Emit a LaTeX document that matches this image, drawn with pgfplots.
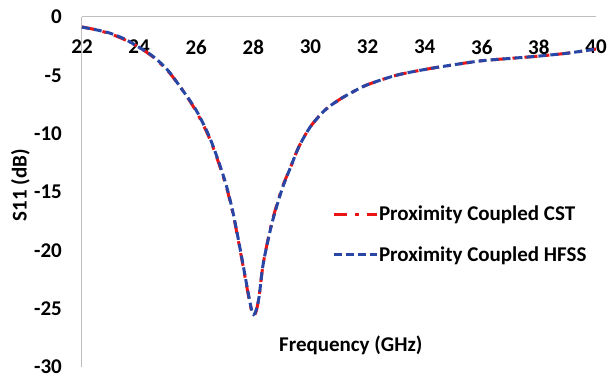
\documentclass[border=0pt]{standalone}
\usepackage{fontspec}
\setmainfont{Carlito}
\usepackage{pgfplots}
\pgfplotsset{compat=1.18}
\definecolor{cstred}{RGB}{235,20,20}
\definecolor{hfssblue}{RGB}{40,70,165}
\definecolor{axgray}{RGB}{190,190,190}
\begin{document}
\begin{tikzpicture}
\begin{axis}[
  name=ax,
  scale only axis,
  width=514pt, height=350pt,
  xmin=22, xmax=40, ymin=-30, ymax=0,
  axis x line=middle, axis y line=left,
  x axis line style={-, draw=axgray, line width=1pt},
  y axis line style={-, draw=axgray, line width=1pt},
  hide obscured x ticks=false, hide obscured y ticks=false,
  major tick length=0pt,
  xtick={22,24,...,40},
  xticklabels={22,24,26,28,30,32,34,36,38,40},
  ytick={-30,-25,-20,-15,-10,-5,0},
  yticklabels={-30,-25,-20,-15,-10,-5,0},
  xticklabel style={anchor=center, yshift=-30pt, inner sep=0pt, font=\fontsize{21}{25}\selectfont\bfseries},
  yticklabel style={anchor=east, xshift=-20pt, inner sep=0pt, font=\fontsize{21}{25}\selectfont\bfseries},
  xlabel={Frequency (GHz)},
  xlabel style={at={(axis description cs:0.523,0.063)}, anchor=center, font=\fontsize{21}{25}\selectfont\bfseries},
  ylabel={S11 (dB)},
  ylabel style={at={(axis description cs:-0.12,0.52)}, anchor=center, font=\fontsize{21}{25}\selectfont\bfseries},
  clip=false,
  legend style={draw=none, fill=none, at={(axis description cs:0.486,0.46)}, anchor=north west,
    font=\fontsize{21}{25}\selectfont\bfseries, row sep=24pt, inner sep=0pt,
    nodes={inner xsep=1pt, inner ysep=0pt}},
  legend cell align=left,
  legend image code/.code={\draw[#1] (0pt,0pt) -- (43pt,0pt);},
]
\addplot[cstred, line width=3pt, smooth, tension=0.5, dash pattern=on 13pt off 8pt on 4pt off 8pt] coordinates {
(22.0,-0.85) (22.5,-1.1) (23.0,-1.45) (23.5,-1.95) (24.0,-2.6) (24.5,-3.45)
(25.0,-4.6) (25.5,-6.2) (26.0,-8.1) (26.5,-10.6) (27.0,-14.1) (27.3,-17.0)
(27.6,-20.8) (27.8,-23.5) (27.93,-25.1) (28.01,-25.6) (28.09,-25.3) (28.2,-24.0) (28.35,-21.1)
(28.65,-17.6) (29.0,-14.7) (29.3,-12.9) (29.6,-11.1) (30.0,-9.4) (30.5,-8.0)
(31.0,-7.1) (31.5,-6.4) (32.0,-5.8) (33.0,-5.0) (34.0,-4.5) (35.0,-4.1)
(36.0,-3.75) (37.0,-3.55) (38.0,-3.35) (39.0,-3.1) (40.0,-2.75)
};
\addlegendentry{Proximity Coupled CST}
\addplot[hfssblue, line width=3pt, smooth, tension=0.5, dash pattern=on 8pt off 4pt] coordinates {
(22.0,-0.87) (22.5,-1.1) (23.0,-1.4) (23.5,-1.9) (24.0,-2.6) (24.5,-3.4)
(25.0,-4.55) (25.5,-6.2) (26.0,-8.0) (26.5,-10.5) (27.0,-14.0) (27.3,-16.9)
(27.6,-20.7) (27.8,-23.4) (27.93,-25.0) (28.01,-25.5) (28.09,-25.2) (28.2,-24.0) (28.35,-21.1)
(28.65,-17.7) (29.0,-14.8) (29.3,-12.9) (29.6,-11.1) (30.0,-9.4) (30.5,-8.0)
(31.0,-7.1) (31.5,-6.4) (32.0,-5.8) (33.0,-5.0) (34.0,-4.5) (35.0,-4.1)
(36.0,-3.75) (37.0,-3.55) (38.0,-3.35) (39.0,-3.1) (40.0,-2.75)
};
\addlegendentry{Proximity Coupled HFSS}
\end{axis}
\pgfresetboundingbox
\path ([shift={(-82pt,-16pt)}]ax.south west) rectangle ([shift={(12pt,17pt)}]ax.north east);
\end{tikzpicture}
\end{document}
